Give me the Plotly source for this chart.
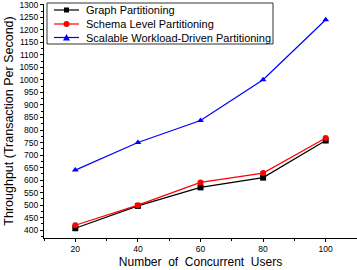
import plotly.graph_objects as go

users = [20, 40, 60, 80, 100]
graph_part = [408, 497, 571, 610, 758]
schema_part = [420, 500, 591, 628, 768]
scalable_part = [640, 750, 838, 1001, 1240]

names = ["Graph Partitioning", "Schema Level Partitioning", "Scalable Workload-Driven Partitioning"]
colors = ["black", "red", "blue"]
symbols = ["square", "circle", "triangle-up"]
values = [graph_part, schema_part, scalable_part]

W, H = 357, 270
ML, MR, MT, MB = 44, 0, 4, 32
PW, PH = W - ML - MR, H - MT - MB


def px(x):
    return (x - ML) / PW


def py(y):
    return (H - MB - y) / PH


fig = go.Figure()
for name, vals, color, sym in zip(names, values, colors, symbols):
    fig.add_trace(go.Scatter(
        x=users, y=vals, name=name, mode="lines+markers",
        line=dict(color=color, width=1.2),
        marker=dict(symbol=sym, size=6, color=color),
        showlegend=False,
    ))

# custom compact legend
shapes = [dict(type="rect", xref="paper", yref="paper",
               x0=px(47), x1=px(273), y0=py(44), y1=py(3),
               line=dict(color="#333", width=1), fillcolor="white", layer="above")]
annotations = []
rows = [10, 24, 37.5]
for name, color, sym, ry in zip(names, colors, symbols, rows):
    shapes.append(dict(type="line", xref="paper", yref="paper",
                       x0=px(54), x1=px(79), y0=py(ry), y1=py(ry),
                       line=dict(color=color, width=1.2), layer="above"))
    cx = 66.5
    if sym == "square":
        shapes.append(dict(type="rect", xref="paper", yref="paper",
                           x0=px(cx - 2.5), x1=px(cx + 2.5), y0=py(ry + 2.5), y1=py(ry - 2.5),
                           line=dict(width=0), fillcolor=color, layer="above"))
    elif sym == "circle":
        shapes.append(dict(type="circle", xref="paper", yref="paper",
                           x0=px(cx - 3), x1=px(cx + 3), y0=py(ry + 3), y1=py(ry - 3),
                           line=dict(width=0), fillcolor=color, layer="above"))
    else:
        path = "M {} {} L {} {} L {} {} Z".format(
            px(cx - 3.5), py(ry + 3), px(cx + 3.5), py(ry + 3), px(cx), py(ry - 3.5))
        shapes.append(dict(type="path", xref="paper", yref="paper", path=path,
                           line=dict(width=0), fillcolor=color, layer="above"))
    annotations.append(dict(xref="paper", yref="paper", x=px(84), y=py(ry),
                            xanchor="left", yanchor="middle", showarrow=False,
                            text=name, font=dict(size=11, color="black")))

fig.update_layout(
    width=W, height=H,
    margin=dict(l=ML, r=MR, t=MT, b=MB, autoexpand=False),
    plot_bgcolor="white", paper_bgcolor="white",
    font=dict(family="Arial, Liberation Sans, sans-serif", color="black"),
    showlegend=False,
    shapes=shapes,
    annotations=annotations,
    xaxis=dict(
        range=[10, 110], tickvals=[20, 40, 60, 80, 100],
        showgrid=False, zeroline=False, automargin=False,
        showline=True, linecolor="black", linewidth=1,
        ticks="outside", ticklen=3, tickcolor="black",
        minor=dict(tickvals=[10, 30, 50, 70, 90, 110], ticks="outside", ticklen=2, tickcolor="black"),
        tickfont=dict(size=8.5),
        title=dict(text="Number  of  Concurrent  Users", font=dict(size=12), standoff=4),
    ),
    yaxis=dict(
        range=[369, 1303], tickmode="array",
        tickvals=list(range(400, 1301, 50)),
        showgrid=False, zeroline=False, automargin=False,
        showline=True, linecolor="black", linewidth=1,
        ticks="outside", ticklen=3, tickcolor="black",
        ticklabeloverflow="allow",
        minor=dict(tickvals=list(range(375, 1300, 50)), ticks="outside", ticklen=2, tickcolor="black"),
        tickfont=dict(size=8.5),
        title=dict(text="Throughput (Transaction Per Second)", font=dict(size=12.5), standoff=3),
    ),
)

fig.write_html(
    "out.html",
    config={"displayModeBar": False, "staticPlot": True},
    post_script="document.body.style.margin='0';document.body.style.overflow='hidden';",
)
